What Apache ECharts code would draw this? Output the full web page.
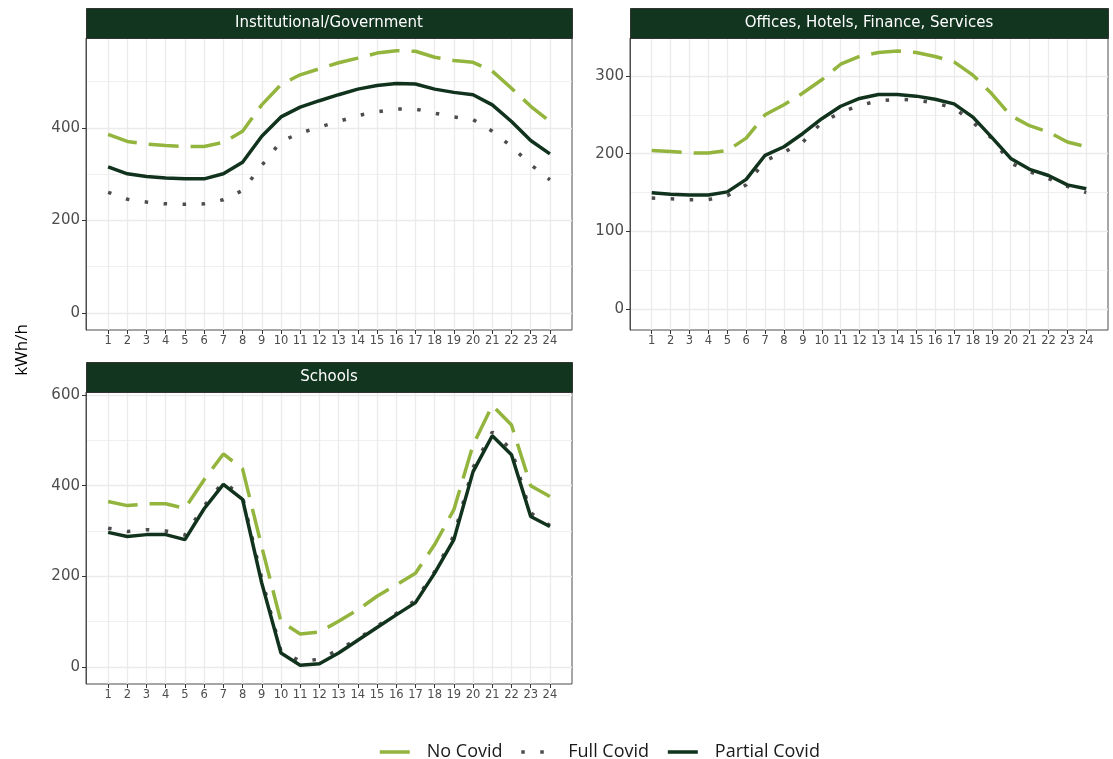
<!DOCTYPE html>
<html>
<head>
<meta charset="utf-8">
<script src="https://cdn.jsdelivr.net/npm/echarts@6/dist/echarts.min.js"></script>
<style>html,body{margin:0;padding:0;background:#fff}#c{width:1113px;height:759px}</style>
</head>
<body>
<div id="c"></div>
<script>
const hours = [1,2,3,4,5,6,7,8,9,10,11,12,13,14,15,16,17,18,19,20,21,22,23,24];
const seriesNames = ['No Covid', 'Full Covid', 'Partial Covid'];
const panelTitles = ['Institutional/Government', 'Offices, Hotels, Finance, Services', 'Schools'];

const instNo      = [386,371,365,362,360,360,369,393,450,494,515,528,541,551,562,567,566,553,546,542,523,486,447,414];
const instFull    = [261,246,240,236,235,236,245,265,319,371,389,402,414,427,435,441,441,432,424,418,393,360,321,288];
const instPartial = [316,301,295,292,290,290,301,326,382,424,445,459,472,484,492,496,495,484,477,472,450,414,373,344];

const offNo      = [204,203,201,201,204,220,250,263,278,295,315,325,330,332,330,325,318,301,277,249,236,228,215,209];
const offFull    = [143,142,141,141,146,160,191,202,215,240,253,262,268,270,269,265,259,240,220,188,177,168,158,150];
const offPartial = [150,148,147,147,151,167,198,209,226,245,261,271,276,276,274,270,264,247,221,194,180,172,160,155];

const schNo      = [365,356,360,360,350,413,470,437,265,100,73,77,101,126,156,181,207,270,347,490,577,534,400,376];
const schFull    = [306,299,303,300,291,355,409,375,195,35,13,17,38,62,90,118,147,210,290,440,518,480,340,312];
const schPartial = [297,288,292,292,281,349,403,370,185,31,4,7,31,59,87,115,142,207,281,431,510,468,332,310];

const yMajor = [[0,200,400],[0,100,200,300],[0,200,400,600]];
const yMinor = [[100,300,500],[50,150,250],[100,300,500]];
const yRange = [[-36.8,594.6],[-26.5,348.7],[-37.5,606.6]];
const xRange = [-0.15, 25.15];

const panelData = [
  [instNo, instFull, instPartial],
  [offNo, offFull, offPartial],
  [schNo, schFull, schPartial]
];

const grids = [
  {left:86, top:38, width:486, height:292},
  {left:630, top:38, width:478, height:292},
  {left:86, top:392, width:486, height:292}
];
const colors = ['#93b53e', '#4d4d4d', '#11331e'];
const dashes = [[30,12], [3.5,15.5], 'solid'];
const stripColor = '#12351f';
const tickFont = 'DejaVu Sans';

const option = {
  backgroundColor: '#ffffff',
  animation: false,
  grid: grids.map(g => Object.assign({show:true, borderColor:'#4d4d4d', borderWidth:1, backgroundColor:'#fff', containLabel:false}, g)),
  xAxis: grids.map((g,i) => ({
    type:'value', gridIndex:i, min:xRange[0], max:xRange[1],
    axisLine:{show:false, onZero:false},
    axisTick:{show:true, customValues:hours, length:4, lineStyle:{color:'#333', width:1}},
    axisLabel:{customValues:hours, fontSize:11.5, fontFamily:tickFont, color:'#4d4d4d', margin:5},
    splitLine:{show:true, lineStyle:{color:'#ebebeb', width:1.3}}
  })),
  yAxis: [],
  series: [],
  legend: {
    data: seriesNames,
    left: 373, top: 738,
    itemWidth: 30, itemHeight: 14, itemGap: 17,
    itemStyle: {opacity: 0},
    lineStyle: {width: 3.5},
    textStyle: {fontFamily:'Open Sans', fontSize:18, color:'#1a1a1a', padding:[0,0,0,12]}
  },
  graphic: []
};

grids.forEach((g,i) => {
  option.yAxis.push({
    type:'value', gridIndex:i, min:yRange[i][0], max:yRange[i][1], position:'left',
    axisLine:{show:true, onZero:false, lineStyle:{color:'#4d4d4d', width:1}},
    axisTick:{show:true, customValues:yMajor[i], length:4, lineStyle:{color:'#333'}},
    axisLabel:{customValues:yMajor[i], fontSize:15, fontFamily:tickFont, color:'#4d4d4d', margin:6},
    splitLine:{show:true, lineStyle:{color:'#ebebeb', width:1.3}}
  });
});
grids.forEach((g,i) => {
  option.yAxis.push({
    type:'value', gridIndex:i, min:yRange[i][0], max:yRange[i][1], position:'right',
    axisLine:{show:false, onZero:false},
    axisTick:{show:false, customValues:yMinor[i]},
    axisLabel:{show:false, customValues:yMinor[i]},
    splitLine:{show:true, lineStyle:{color:'#ececec', width:0.8}}
  });
});

panelData.forEach((arrs, i) => {
  arrs.forEach((vals, k) => {
    option.series.push({
      type:'line', name:seriesNames[k], xAxisIndex:i, yAxisIndex:i,
      data: hours.map((h,j) => [h, vals[j]]),
      symbol:'none', smooth:false, z: 3 + k,
      color: colors[k],
      lineStyle:{color:colors[k], width:3.5, type:dashes[k], cap:'butt'}
    });
  });
});

grids.forEach((g,i) => {
  option.graphic.push({
    type:'rect', left:g.left, top:g.top-30,
    shape:{width:g.width, height:30},
    style:{fill:stripColor, stroke:'#333', lineWidth:1}, z:10
  });
  option.graphic.push({
    type:'text', x:g.left + g.width/2, y:g.top-15,
    style:{text:panelTitles[i], fill:'#ffffff', font:'15px "DejaVu Sans"', textAlign:'center', textVerticalAlign:'middle'}, z:11
  });
});
option.graphic.push({
  type:'text', x:22, y:350, rotation:Math.PI/2,
  style:{text:'kWh/h', fill:'#000', font:'17px "Open Sans"', textAlign:'center', textVerticalAlign:'middle'}, z:11
});

const chart = echarts.init(document.getElementById('c'), null, {renderer:'canvas'});
chart.setOption(option);
</script>
</body>
</html>
